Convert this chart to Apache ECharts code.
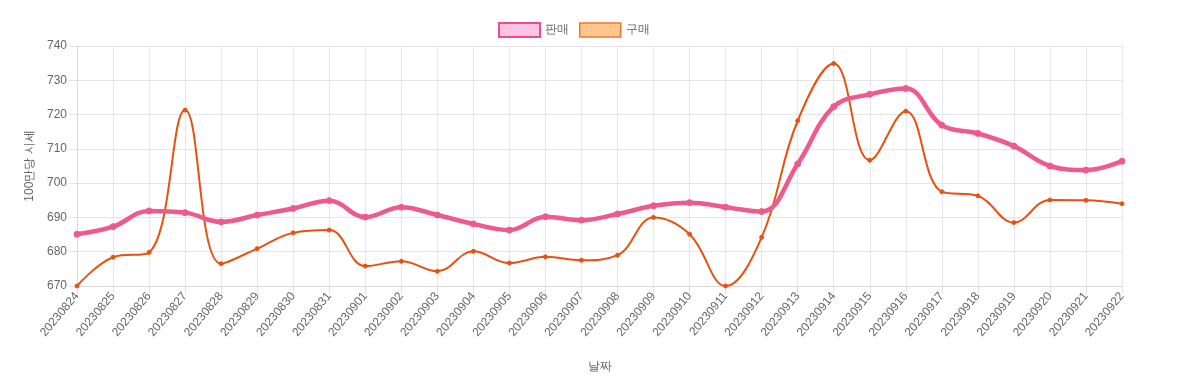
<!DOCTYPE html>
<html><head><meta charset="utf-8">
<script src="https://cdn.jsdelivr.net/npm/echarts@6/dist/echarts.min.js"></script>
<style>html,body{margin:0;padding:0;background:#fff}#c{width:1180px;height:389px}</style>
</head><body><div id="c"></div>
<script>
const categories = ['20230824','20230825','20230826','20230827','20230828','20230829','20230830','20230831',
'20230901','20230902','20230903','20230904','20230905','20230906','20230907','20230908','20230909','20230910',
'20230911','20230912','20230913','20230914','20230915','20230916','20230917','20230918','20230919','20230920','20230921','20230922'];
const sellValues = [685.1,687.3,691.9,691.4,688.7,690.7,692.6,694.9,690.1,693.0,690.7,688.1,686.3,690.2,689.2,691.0,693.4,694.3,693.0,691.7,705.6,722.3,725.9,727.6,716.9,714.5,710.8,705.0,703.8,706.4];
const buyValues = [670.0,678.4,679.8,721.3,676.5,680.9,685.5,686.3,675.8,677.2,674.3,680.1,676.7,678.5,677.5,679.0,690.0,685.1,670.0,684.2,718.2,734.9,706.7,721.0,697.5,696.3,688.5,695.1,695.0,694.0];
const yTicks = {min:670, max:740, interval:10};
const seriesNames = ['판매','구매'];
const font = 'Liberation Sans, Arial, sans-serif';
const chart = echarts.init(document.getElementById('c'));
chart.setOption({
  animation:false,
  textStyle:{fontFamily:font},
  legend:{
    top:17, left:493, itemWidth:41, itemHeight:14, itemGap:10,
    textStyle:{color:'#666', fontSize:12, fontFamily:font},
    data:[
      {name:seriesNames[0], icon:'rect', itemStyle:{color:'#ffc3e5', borderColor:'#ea4f85', borderWidth:2}},
      {name:seriesNames[1], icon:'rect', itemStyle:{color:'#ffc58f', borderColor:'#ea7a2e', borderWidth:1.5}}
    ]
  },
  grid:{left:77, right:58, top:46, bottom:103, containLabel:false},
  xAxis:{
    type:'category', data:categories, boundaryGap:false,
    name:'날짜', nameLocation:'middle', nameGap:75,
    nameTextStyle:{color:'#666', fontSize:12, fontFamily:font},
    axisLine:{lineStyle:{color:'#d9d9d9'}},
    axisTick:{show:true, length:8, alignWithLabel:true, lineStyle:{color:'#e3e3e3'}},
    splitLine:{show:true, lineStyle:{color:'#e6e6e6'}},
    axisLabel:{rotate:50, color:'#666', fontSize:12, fontFamily:font, margin:8, interval:0}
  },
  yAxis:{
    type:'value', min:yTicks.min, max:yTicks.max, interval:yTicks.interval,
    name:'100만당 시세', nameLocation:'middle', nameGap:40, nameRotate:90,
    nameTextStyle:{color:'#666', fontSize:12, fontFamily:font},
    axisLine:{show:true, lineStyle:{color:'#d9d9d9'}},
    axisTick:{show:true, length:8, lineStyle:{color:'#e3e3e3'}},
    splitLine:{show:true, lineStyle:{color:'#e6e6e6'}},
    axisLabel:{color:'#666', fontSize:12, fontFamily:font, margin:10}
  },
  series:[
    {name:seriesNames[0], type:'line', data:sellValues, smooth:0.4, z:3,
     symbol:'circle', symbolSize:6, showSymbol:true,
     lineStyle:{color:'#ef5a8a', width:4.5},
     itemStyle:{color:'#ef5a8a', borderColor:'#ef5a8a'}},
    {name:seriesNames[1], type:'line', data:buyValues, smooth:0.4, z:2,
     symbol:'circle', symbolSize:4, showSymbol:true,
     lineStyle:{color:'#e8510f', width:2},
     itemStyle:{color:'#e8510f', borderColor:'#e8510f'}}
  ]
});
</script></body></html>
